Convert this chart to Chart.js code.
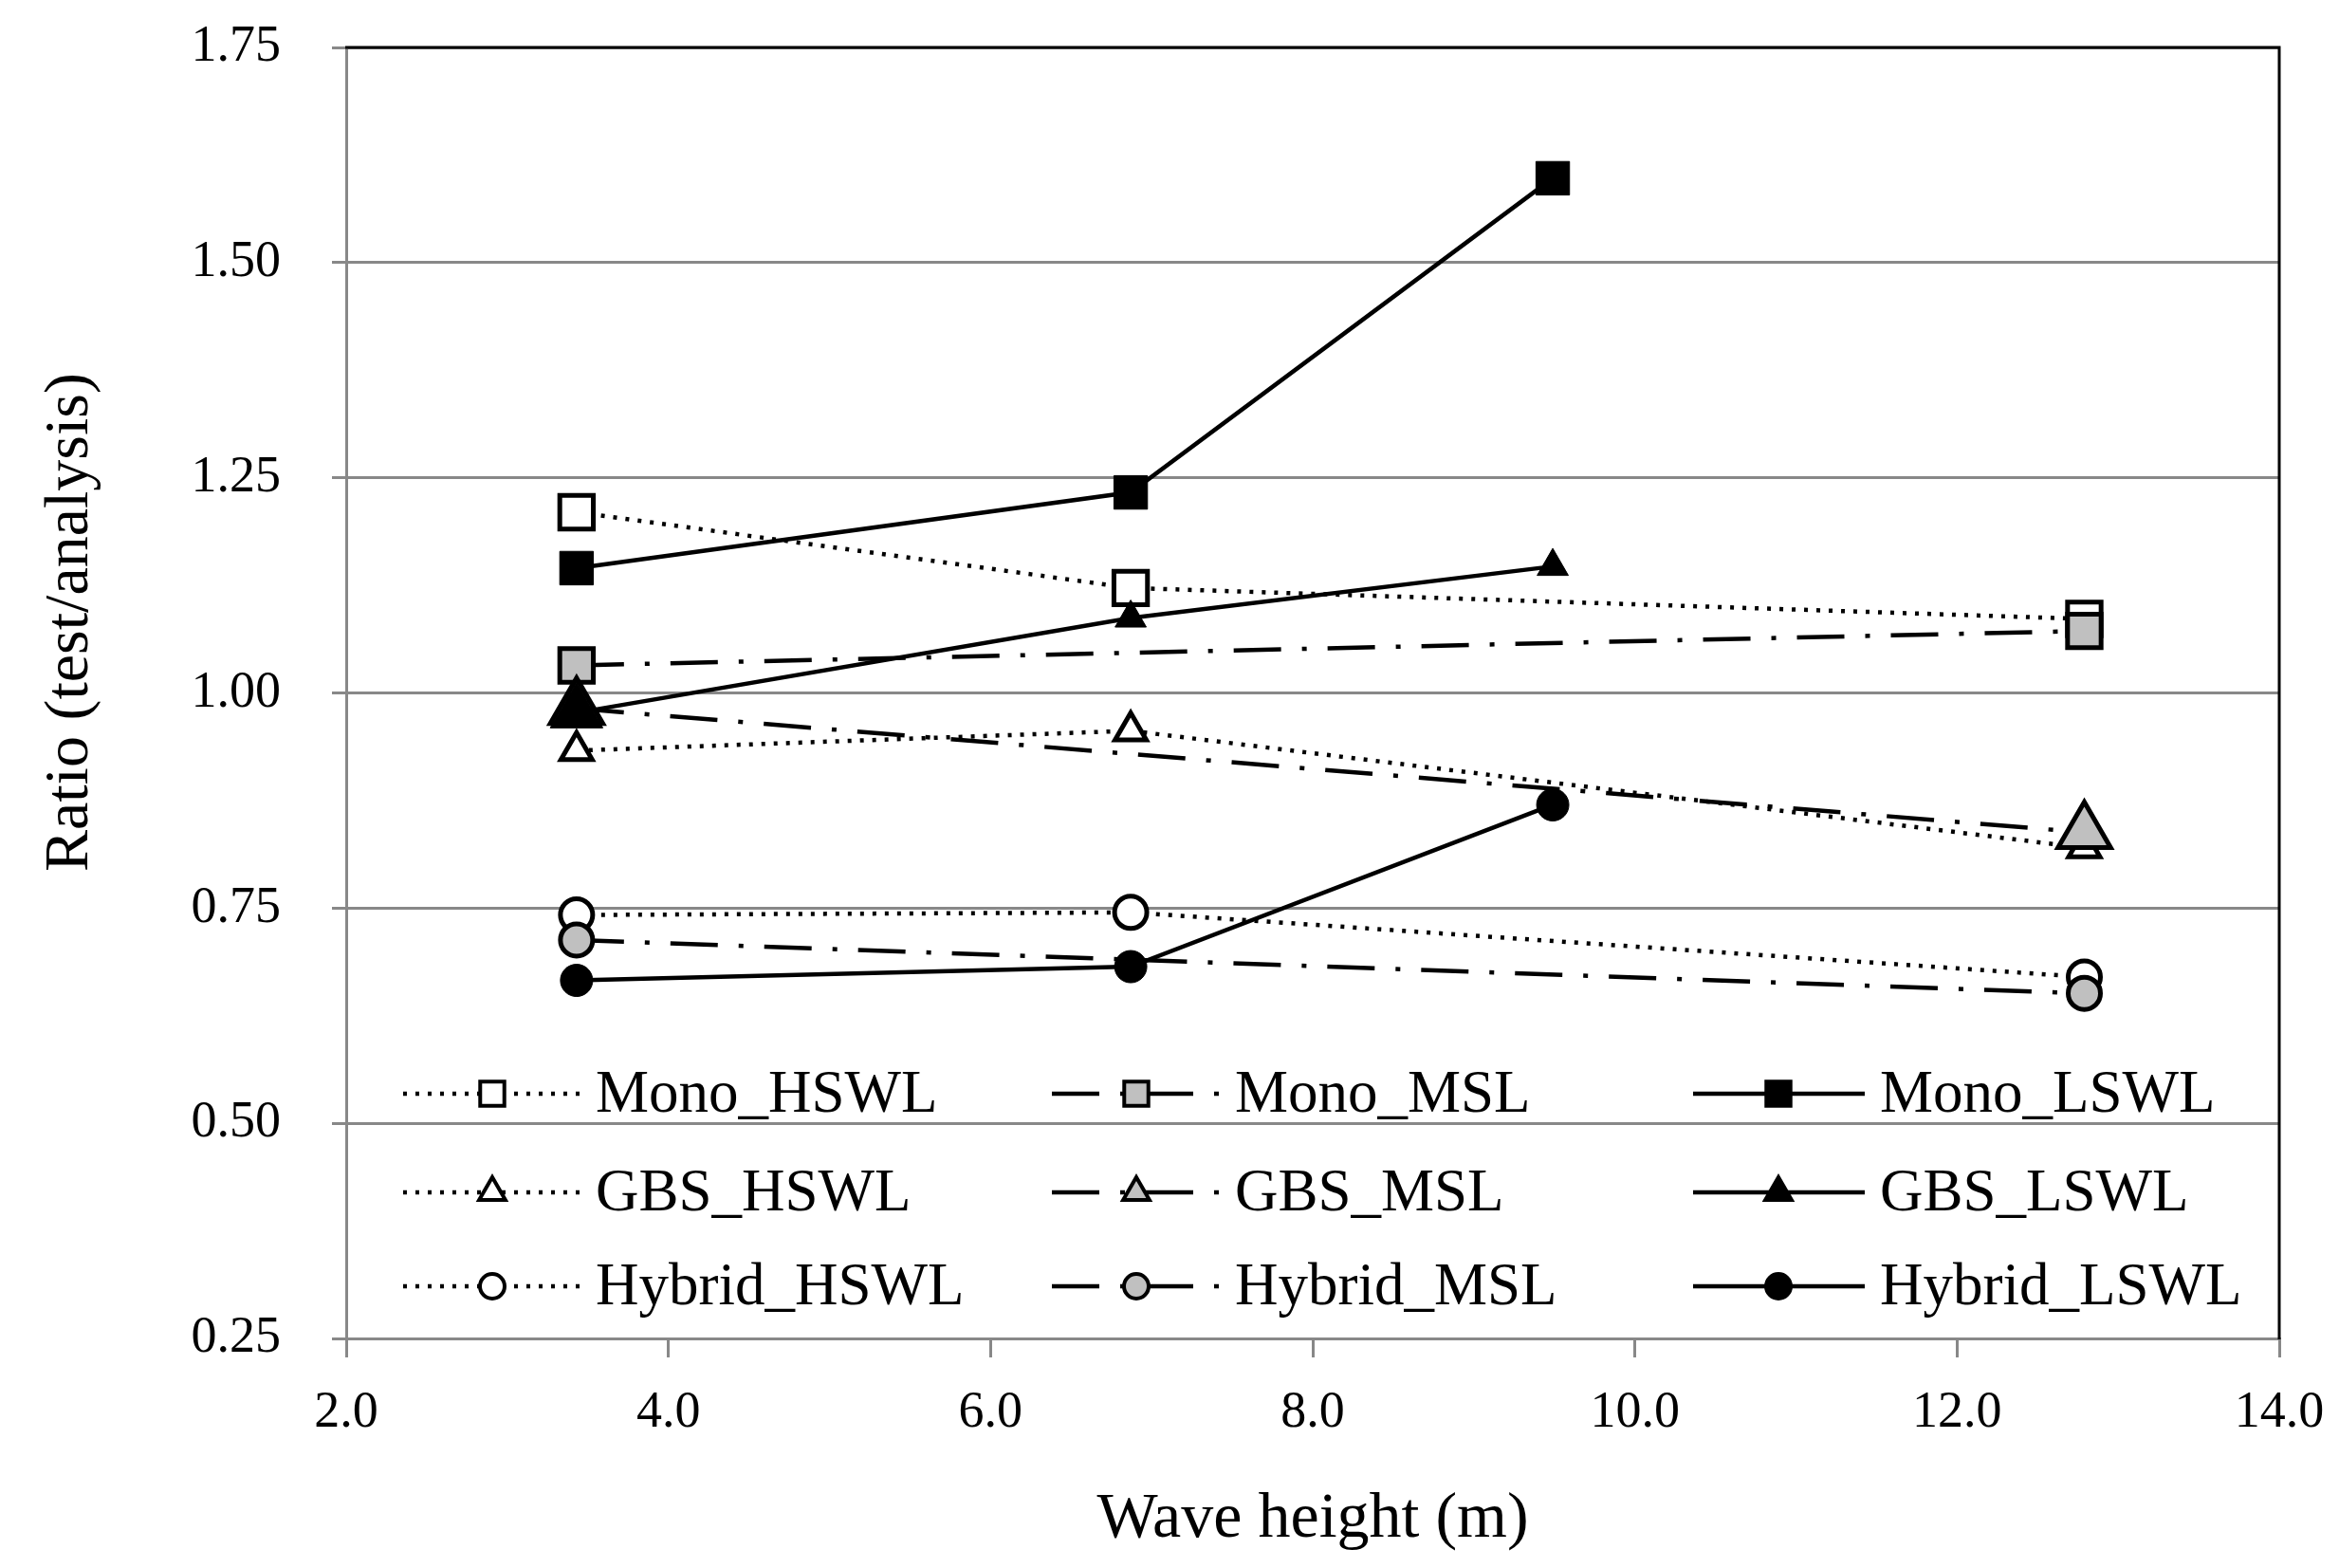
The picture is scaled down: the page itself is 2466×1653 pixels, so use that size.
<!DOCTYPE html>
<html><head><meta charset="utf-8">
<script src="https://cdn.jsdelivr.net/npm/chart.js@4/dist/chart.umd.min.js"></script>
<style>html,body{margin:0;padding:0;background:#fff;} #wrap{width:2466px;height:1653px;position:relative;}</style>
</head><body><div id="wrap"><canvas id="c"></canvas></div>
<script>
// ---- data ----
const seriesNames = ['Mono_HSWL','Mono_MSL','Mono_LSWL','GBS_HSWL','GBS_MSL','GBS_LSWL','Hybrid_HSWL','Hybrid_MSL','Hybrid_LSWL'];
const xMonoHSWL = [3.43, 6.87, 12.79];   const yMonoHSWL = [1.210, 1.122, 1.086];
const xMonoMSL  = [3.43, 12.79];         const yMonoMSL  = [1.032, 1.072];
const xMonoLSWL = [3.43, 6.87, 9.49];    const yMonoLSWL = [1.145, 1.233, 1.598];
const xGbsHSWL  = [3.43, 6.87, 12.79];   const yGbsHSWL  = [0.933, 0.956, 0.820];
const xGbsMSL   = [3.43, 12.79];         const yGbsMSL   = [0.982, 0.838];
const xGbsLSWL  = [3.43, 6.87, 9.49];    const yGbsLSWL  = [0.977, 1.087, 1.147];
const xHybHSWL  = [3.43, 6.87, 12.79];   const yHybHSWL  = [0.742, 0.745, 0.670];
const xHybMSL   = [3.43, 12.79];         const yHybMSL   = [0.713, 0.651];
const xHybLSWL  = [3.43, 6.87, 9.49];    const yHybLSWL  = [0.666, 0.682, 0.870];
const xTicks = [2, 4, 6, 8, 10, 12, 14];
const yTicks = [0.25, 0.50, 0.75, 1.00, 1.25, 1.50, 1.75];
const xTitle = 'Wave height (m)';
const yTitle = 'Ratio (test/analysis)';

// ---- styles ----
const FONT = "'Liberation Serif', 'Times New Roman', serif";
const levelStyle = {
  HSWL: {fill:'#ffffff', dash:[4,9]},
  MSL:  {fill:'#c0c0c0', dash:[50,22,5,22]},
  LSWL: {fill:'#000000', dash:[]}
};
const typeStyle = {Mono:'rect', GBS:'triangle', Hybrid:'circle'};
const typeRadius = {Mono:25, GBS:19, Hybrid:17};
const legendRadius = {Mono:18, GBS:16, Hybrid:13};
const pts = (xs, ys) => xs.map((x, i) => ({x, y: ys[i]}));
const allX = [xMonoHSWL,xMonoMSL,xMonoLSWL,xGbsHSWL,xGbsMSL,xGbsLSWL,xHybHSWL,xHybMSL,xHybLSWL];
const allY = [yMonoHSWL,yMonoMSL,yMonoLSWL,yGbsHSWL,yGbsMSL,yGbsLSWL,yHybHSWL,yHybMSL,yHybLSWL];

const datasets = seriesNames.map((name, i) => {
  const [type, level] = name.split('_');
  const ls = levelStyle[level];
  let radius = typeRadius[type];
  if (name === 'GBS_MSL') radius = allX[i].map(() => 32);
  if (name === 'GBS_LSWL') radius = [32, 19, 19];
  return {
    label: name,
    data: pts(allX[i], allY[i]),
    borderColor: '#000',
    borderWidth: 4.5,
    borderDash: ls.dash,
    pointStyle: typeStyle[type],
    pointRadius: radius,
    pointBackgroundColor: ls.fill,
    pointBorderColor: '#000',
    pointBorderWidth: level === 'LSWL' ? 1 : 5,
    fill: false,
    tension: 0,
    order: seriesNames.length - 1 - i,
    _type: type, _fill: ls.fill
  };
});

function drawMarker(ctx, style, x, y, r, fill, bw) {
  ctx.save();
  ctx.setLineDash([]);
  ctx.beginPath();
  if (style === 'rect') {
    const s = r * Math.SQRT1_2;
    ctx.rect(x - s, y - s, 2 * s, 2 * s);
  } else if (style === 'triangle') {
    ctx.moveTo(x, y - r);
    ctx.lineTo(x + r * Math.sin(2*Math.PI/3), y - r * Math.cos(2*Math.PI/3));
    ctx.lineTo(x + r * Math.sin(4*Math.PI/3), y - r * Math.cos(4*Math.PI/3));
    ctx.closePath();
  } else {
    ctx.arc(x, y, r, 0, Math.PI * 2);
  }
  ctx.fillStyle = fill; ctx.fill();
  ctx.lineWidth = bw; ctx.strokeStyle = '#000'; ctx.stroke();
  ctx.restore();
}

const framePlugin = {
  id: 'frame',
  afterDatasetsDraw(chart) {
    const {ctx, chartArea: a} = chart;
    ctx.save();
    ctx.strokeStyle = '#000'; ctx.lineWidth = 3; ctx.setLineDash([]);
    ctx.beginPath();
    ctx.moveTo(a.left - 1, a.top); ctx.lineTo(a.right, a.top); ctx.lineTo(a.right, a.bottom + 1);
    ctx.stroke();
    ctx.restore();
  },
  afterDraw(chart) {
    const ctx = chart.ctx;
    // y axis title
    ctx.save();
    ctx.translate(75, 656);
    ctx.rotate(-Math.PI / 2);
    ctx.fillStyle = '#000'; ctx.font = '66px ' + FONT;
    ctx.textAlign = 'center'; ctx.textBaseline = 'middle';
    ctx.fillText(yTitle, 0, 0);
    ctx.restore();
    // legend
    const cols = [{l0:425, l1:613, m:519, t:628}, {l0:1109, l1:1290, m:1198, t:1302}, {l0:1785, l1:1966, m:1875, t:1982}];
    const rows = [1153, 1257, 1356];
    chart.data.datasets.forEach((ds, i) => {
      const c = cols[i % 3], y = rows[Math.floor(i / 3)];
      ctx.save();
      ctx.strokeStyle = '#000'; ctx.lineWidth = 4.5; ctx.setLineDash(ds.borderDash);
      ctx.beginPath(); ctx.moveTo(c.l0, y); ctx.lineTo(c.l1, y); ctx.stroke();
      ctx.restore();
      drawMarker(ctx, ds.pointStyle, c.m, y, legendRadius[ds._type], ds._fill, 4);
      ctx.save();
      ctx.fillStyle = '#000'; ctx.font = '63px ' + FONT;
      ctx.textBaseline = 'middle'; ctx.textAlign = 'left';
      ctx.fillText(ds.label, c.t, y + 2);
      ctx.restore();
    });
  }
};

new Chart(document.getElementById('c'), {
  type: 'line',
  data: {datasets},
  options: {
    responsive: true, maintainAspectRatio: false, animation: false,
    layout: {padding: {top: 50, right: 63, left: 0, bottom: 0}},
    plugins: {legend: {display: false}, tooltip: {enabled: false}},
    scales: {
      x: {
        type: 'linear', min: 2, max: 14,
        afterBuildTicks: s => { s.ticks = xTicks.map(v => ({value: v})); },
        afterFit: s => { s.height = 242; s.paddingLeft = 0; s.paddingRight = 0; },
        ticks: {callback: v => Number(v).toFixed(1), font: {family: FONT, size: 54}, color: '#000', padding: 26, maxRotation: 0},
        grid: {drawOnChartArea: false, drawTicks: true, tickLength: 20, color: '#888', lineWidth: 3},
        border: {color: '#888', width: 3},
        title: {display: true, text: xTitle, font: {family: FONT, size: 68}, color: '#000', padding: {top: 0, bottom: 10}}
      },
      y: {
        type: 'linear', min: 0.25, max: 1.75,
        afterBuildTicks: s => { s.ticks = yTicks.map(v => ({value: v})); },
        afterFit: s => { s.width = 365; s.paddingTop = 0; s.paddingBottom = 0; },
        ticks: {callback: v => Number(v).toFixed(2), font: {family: FONT, size: 54}, color: '#000', padding: 54},
        grid: {drawOnChartArea: true, drawTicks: true, tickLength: 15, color: '#888', lineWidth: 3},
        border: {color: '#888', width: 3},
        title: {display: false}
      }
    }
  },
  plugins: [framePlugin]
});
</script>
</body></html>
